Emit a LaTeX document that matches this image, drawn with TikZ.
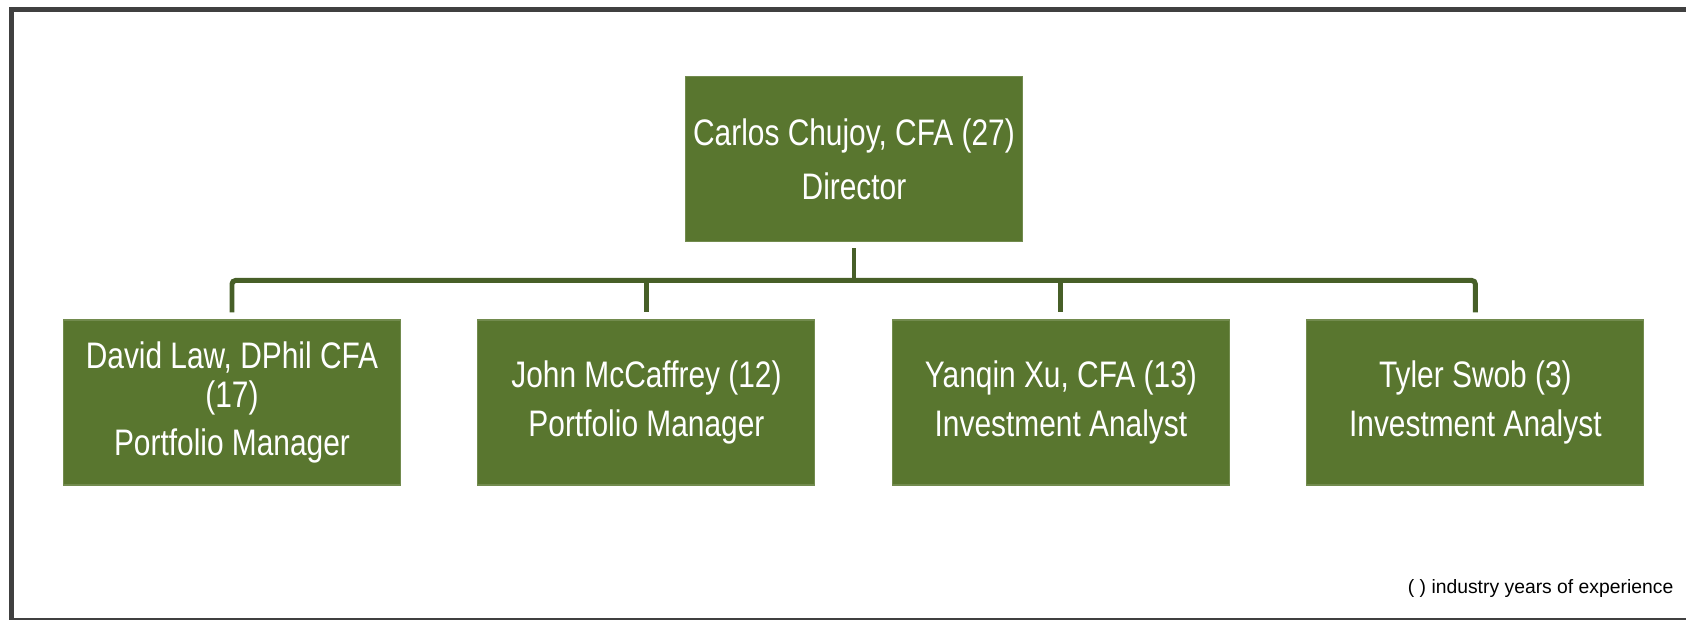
\documentclass[tikz,border=0pt]{standalone}
\usepackage{fontspec}
\setmainfont{Liberation Sans}
\newfontfamily\narrowfont[FakeStretch=0.81]{Liberation Sans}
\usetikzlibrary{positioning}

\definecolor{boxgreen}{HTML}{59762F}
\definecolor{linkgreen}{HTML}{475F28}
\definecolor{framegray}{HTML}{404040}

\tikzset{
  person/.style={rectangle, fill=boxgreen, draw=boxgreen!85!white, line width=0.3pt,
    minimum width=33.7mm, minimum height=16.5mm, inner sep=0pt, align=center,
    text=white, font=\narrowfont\fontsize{10.5}{14.2}\selectfont},
  link/.style={linkgreen, line width=1.42pt, rounded corners=1pt}
}

\begin{document}
\begin{tikzpicture}[x=0.1mm, y=0.1mm]

\useasboundingbox (0,0) rectangle (1686,620);

% frame
\draw[framegray, line width=1.55pt] (1686,610.5) -| (11.5,0);
\draw[framegray, line width=0.6pt] (11.5,1) -- (1686,1);

\coordinate (bar) at (0,339.5);

\node[person] (chujoy) at (854,461) {Carlos Chujoy, CFA (27)\\[1.2pt]Director};
\node[person] (law) at (232,217.5) {David Law, DPhil CFA\\[-3.1pt](17)\\[-0.8pt]Portfolio Manager};
\node[person, right=7.64mm of law] (mccaffrey) {John McCaffrey (12)\\Portfolio Manager};
\node[person, right=7.64mm of mccaffrey] (xu) {Yanqin Xu, CFA (13)\\Investment Analyst};
\node[person, right=7.64mm of xu] (swob) {Tyler Swob (3)\\Investment Analyst};

\draw[link] ([yshift=-0.6mm]chujoy.south) -- (chujoy.south |- bar);
\draw[link] ([yshift=0.7mm]law.north) -- (law.north |- bar) -- (swob.north |- bar) -- ([yshift=0.7mm]swob.north);
\foreach \n in {mccaffrey, xu}
  \draw[link] (\n.north |- bar) -- ([yshift=0.7mm]\n.north);

\node[anchor=base east, inner sep=0pt, font=\fontsize{5.5}{6.6}\selectfont] (note) at (1674,26) {( ) industry years of experience};

\end{tikzpicture}
\end{document}
